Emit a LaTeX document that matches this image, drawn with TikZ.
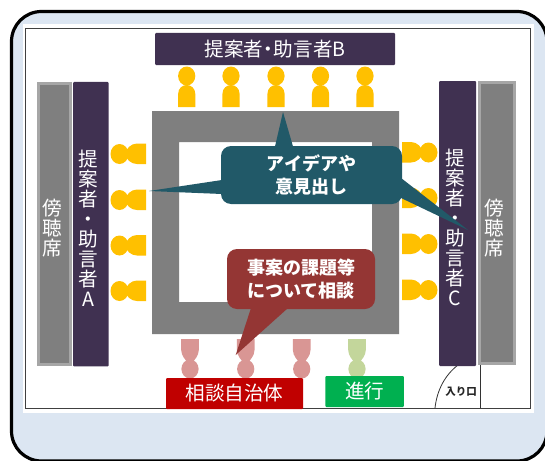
\documentclass[tikz,border=0pt]{standalone}
\usepackage{fontspec}
\setmainfont{Noto Sans CJK JP}
\definecolor{panel}{HTML}{DCE6F2}
\definecolor{plum}{HTML}{403151}
\definecolor{seat}{HTML}{FFC000}
\definecolor{teal}{HTML}{215968}
\definecolor{brick}{HTML}{943634}
\definecolor{rose}{HTML}{D99694}
\definecolor{sage}{HTML}{C3D69B}
\definecolor{tablegray}{HTML}{7F7F7F}
\definecolor{edgegray}{HTML}{A6A6A6}
\definecolor{consult}{HTML}{C00000}
\definecolor{chair}{HTML}{00B050}
\tikzset{
  x=1pt,y=-1pt,
  lighttext/.style={text=white,inner sep=0,align=center,font=\fontsize{19.6}{20}\selectfont},
  bar/.style={fill=plum,draw=none,rounded corners=1pt,lighttext},
  gallery/.style={fill=tablegray,draw=edgegray,line width=3pt,lighttext},
  boldtext/.style={text=white,align=center,inner sep=0,font=\fontsize{18}{23}\selectfont\bfseries},
  tagbox/.style={rounded corners=1pt,lighttext},
}
\newcommand{\persontop}[1]{\fill[seat] (#1,76) ellipse[x radius=8.6,y radius=9.5];
  \fill[seat] (#1-8.6,107) -- (#1-8.6,94) .. controls (#1-8.6,88) and (#1-4,85) .. (#1,85) .. controls (#1+4,85) and (#1+8.6,88) .. (#1+8.6,94) -- (#1+8.6,107) -- cycle;}
\newcommand{\personbot}[2]{\fill[#2] (#1,369) ellipse[x radius=8.6,y radius=9.5];
  \fill[#2] (#1-8.8,339) -- (#1+8.8,339) -- (#1+8.8,350) .. controls (#1+8.8,356) and (#1+4,360) .. (#1+3,362) -- (#1-3,362) .. controls (#1-4,360) and (#1-8.8,356) .. (#1-8.8,350) -- cycle;}
\newcommand{\personleft}[1]{\fill[seat] (119.5,#1) ellipse[x radius=9,y radius=10];
  \fill[seat] (146,#1-10.5) -- (137,#1-10.5) .. controls (131,#1-10.5) and (125.5,#1-5) .. (125.5,#1) .. controls (125.5,#1+5) and (131,#1+10) .. (137,#1+10) -- (146,#1+10) -- cycle;}
\newcommand{\personright}[1]{\fill[seat] (428.5,#1) ellipse[x radius=9,y radius=10];
  \fill[seat] (402,#1-10.5) -- (411,#1-10.5) .. controls (417,#1-10.5) and (422.5,#1-5) .. (422.5,#1) .. controls (422.5,#1+5) and (417,#1+10) .. (411,#1+10) -- (402,#1+10) -- cycle;}
\begin{document}
\begin{tikzpicture}
\useasboundingbox (0,0) rectangle (545,460);
\begin{scope}
\clip (0,0) rectangle (545,460);
\draw[line width=3.2pt,fill=panel,rounded corners=30pt] (11.5,11.5) rectangle (547,461);
\end{scope}
\fill[white] (23,24) rectangle (534,413);
\draw[black!75,line width=0.8pt] (25.5,28.5) rectangle (530,408);
% entrance
\draw[black!80,line width=0.8pt] (480,357) -- (480,408);
\draw[black!80,line width=0.8pt] (435,408) .. controls (437,390) and (445,375) .. (458,365);
\node[inner sep=0,font=\fontsize{10.5}{12}\selectfont\bfseries,text=black!85] (door) at (461,392) {入り口};
% table
\fill[tablegray,even odd rule] (152,111) rectangle (399,334) (179,142) rectangle (372,302);
% seats
\foreach \x in {186.7,231,276,320.5,365}{\persontop{\x}}
\foreach \y in {154,200,245.5,291}{\personleft{\y}}
\foreach \y in {152.5,198,244,290}{\personright{\y}}
\foreach \x in {190,245.7,301.7}{\personbot{\x}{rose}}
\personbot{357}{sage}
% bars
\node[gallery,minimum width=32pt,minimum height=281pt] (galL) at (54.5,224) {};
\node[gallery,minimum width=35pt,minimum height=281pt] (galR) at (497,223) {};
\node[lighttext] (galLt) at (52,228) {傍\\聴\\席};
\node[lighttext] (galRt) at (494,228) {傍\\聴\\席};
\node[bar,minimum width=35.5pt,minimum height=284.5pt] (barA) at (90.8,224.2) {};
\node[bar,minimum width=37pt,minimum height=285pt] (barC) at (457.5,223.5) {};
\node[lighttext] (barAt) at (88,228) {提\\案\\者\\・\\助\\言\\者\\A};
\node[lighttext] (barCt) at (455,227) {提\\案\\者\\・\\助\\言\\者\\C};
\node[bar,minimum width=240pt,minimum height=32pt] (barB) at (275,49) {提案者\hspace{-4.5pt}・\hspace{-4.5pt}助言者B};
\node[tagbox,fill=consult,minimum width=137pt,minimum height=31pt] (soudan) at (234.5,393.5) {相談自治体};
\node[tagbox,fill=chair,minimum width=78.5pt,minimum height=31pt] (shinko) at (364.7,391.5) {進行};
% callouts
\fill[teal] (275,146.5) -- (283,112) -- (293,146.5) -- cycle;
\fill[teal] (222,180) -- (149,191) -- (222,194) -- cycle;
\fill[teal] (401,178) -- (468,230) -- (401,198) -- cycle;
\node[fill=teal,rounded corners=10pt,minimum width=181pt,minimum height=58pt,boldtext] (idea) at (311.5,175) {アイデアや\\意見出し};
\fill[brick] (251,308) -- (235.7,355) -- (288,308) -- cycle;
\node[fill=brick,rounded corners=10pt,minimum width=148pt,minimum height=60pt,boldtext] (jian) at (301,279) {事案の課題等\\について相談};
\end{tikzpicture}
\end{document}
